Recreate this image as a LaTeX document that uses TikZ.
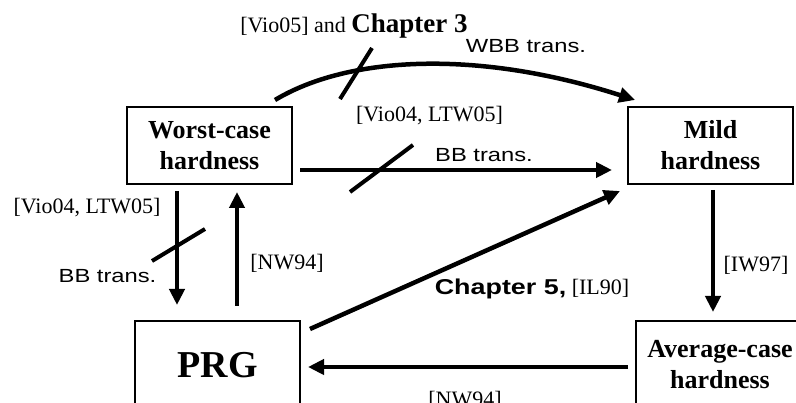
\documentclass[tikz,border=0pt]{standalone}
\usepackage{fontspec}
\setmainfont{Liberation Serif}
\newfontfamily\swide[FakeStretch=1.25]{Liberation Sans}
\usetikzlibrary{arrows.meta,calc}
\begin{document}
\begin{tikzpicture}[x=1pt,y=-1pt,
  box/.style={draw,line width=2pt,inner sep=0pt,align=center,font=\fontsize{26}{31}\selectfont\bfseries},
  conn/.style={line width=4.5pt,-{Triangle[length=16pt,width=15pt]}},
  cross/.style={line width=4pt},
  cite/.style={font=\fontsize{22}{26}\selectfont,anchor=base,inner sep=0pt},
  sans/.style={font=\fontsize{19}{22}\selectfont\swide,anchor=base,inner sep=0pt}]
\useasboundingbox (0,0) rectangle (796,403);
\clip (0,0) rectangle (796,403);
% boxes
\node[box,minimum width=165pt,minimum height=77pt] (W) at (209.5,145.5) {Worst-case\\hardness};
\node[box,minimum width=165pt,minimum height=77pt] (M) at (710.5,145.5) {Mild\\hardness};
\node[box,minimum width=165pt,minimum height=88pt,font=\fontsize{38}{44}\selectfont\bfseries] (P) at (217.5,365) {PRG};
\node[box,minimum width=168pt,minimum height=88pt] (A) at (720,365) {Average-case\\hardness};
% connector end points
\coordinate (c1s) at (275,100);
\coordinate (c1e) at (635,100);
\coordinate (c2s) at (300,170);
\coordinate (c2e) at (612,170);
\coordinate (c3s) at (177,191);
\coordinate (c3e) at (177,305);
\coordinate (c4s) at (237,306);
\coordinate (c4e) at (237,192);
\coordinate (c5s) at (310,329);
\coordinate (c5e) at (620,191);
\coordinate (c6s) at (713,190);
\coordinate (c6e) at (713,312);
\coordinate (c7s) at (628,367);
\coordinate (c7e) at (308,367);
% connectors
\draw[conn] (c1s) .. controls (350,55) and (480,50) .. (c1e);
\draw[conn] (c2s) -- (c2e);
\draw[conn] (c3s) -- (c3e);
\draw[conn] (c4s) -- (c4e);
\draw[conn] (c5s) -- (c5e);
\draw[conn] (c6s) -- (c6e);
\draw[conn] (c7s) -- (c7e);
% crossing marks
\coordinate (x1a) at (340,99);  \coordinate (x1b) at (372,48);
\coordinate (x2a) at (350,192); \coordinate (x2b) at (413,145);
\coordinate (x3a) at (152,261); \coordinate (x3b) at (205,229);
\draw[cross] (x1a) -- (x1b);
\draw[cross] (x2a) -- (x2b);
\draw[cross] (x3a) -- (x3b);
% labels
\node[cite] (l1) at (354,33) {[Vio05] and {\fontsize{27}{30}\selectfont\bfseries Chapter 3}};
\node[sans] (l2) at (526,53) {WBB trans.};
\node[cite] (l3) at (429.5,122) {[Vio04, LTW05]};
\node[sans] (l4) at (484,162) {BB trans.};
\node[cite] (l5) at (87,214) {[Vio04, LTW05]};
\node[sans] (l6) at (107.5,283) {BB trans.};
\node[cite] (l7) at (287,270) {[NW94]};
\node[cite] (l8) at (532,295) {{\fontsize{21.5}{26}\selectfont\swide\bfseries Chapter 5,} [IL90]};
\node[cite] (l9) at (756,272) {[IW97]};
\node[cite] (l10) at (465,407) {[NW94]};
\end{tikzpicture}
\end{document}
